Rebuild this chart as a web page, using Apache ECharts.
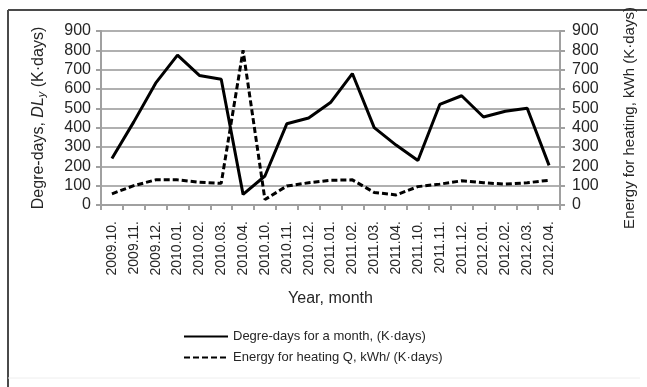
<!DOCTYPE html>
<html><head><meta charset="utf-8">
<script src="https://cdn.jsdelivr.net/npm/echarts@6/dist/echarts.min.js"></script>
<style>html,body{margin:0;padding:0;background:#fff}#c{width:647px;height:387px}</style>
</head><body><div id="c"></div>
<script>
const categories = ['2009.10.','2009.11.','2009.12.','2010.01.','2010.02.','2010.03.','2010.04.','2010.10.','2010.11.','2010.12.','2011.01.','2011.02.','2011.03.','2011.04.','2011.10.','2011.11.','2011.12.','2012.01.','2012.02.','2012.03.','2012.04.'];
const degreeDays = [240, 430, 630, 775, 670, 650, 55, 150, 420, 450, 530, 680, 400, 310, 230, 520, 565, 455, 485, 500, 205];
const energyHeating = [58, 100, 130, 130, 118, 112, 800, 28, 98, 115, 128, 130, 65, 52, 95, 108, 125, 115, 108, 115, 128];
const yTicks = {min: 0, max: 900, interval: 100};

const chart = echarts.init(document.getElementById('c'));
const font = 'Liberation Sans, Arial, sans-serif';
const txt = '#262626';
chart.setOption({
  animation: false,
  backgroundColor: '#fff',
  textStyle: {fontFamily: font},
  graphic: [
    {type: 'line', shape: {x1: 8, y1: 10, x2: 647, y2: 10}, style: {stroke: '#4a4a4a', lineWidth: 2}},
    {type: 'line', shape: {x1: 8, y1: 10, x2: 8, y2: 387}, style: {stroke: '#4a4a4a', lineWidth: 2}},
    {type: 'line', shape: {x1: 8, y1: 378, x2: 640, y2: 378}, style: {stroke: '#eeeeee', lineWidth: 1}}
  ],
  grid: {left: 101, right: 87, top: 31, bottom: 182, containLabel: false, outerBoundsMode: 'none'},
  legend: {
    orient: 'vertical', left: 178, top: 325, itemWidth: 44, itemHeight: 10, itemGap: 8,
    itemStyle: {opacity: 0},
    textStyle: {fontSize: 13, color: txt, fontFamily: font},
    data: ['Degre-days for a month, (K·days)', 'Energy for heating Q, kWh/ (K·days)']
  },
  xAxis: {
    type: 'category', data: categories, boundaryGap: true,
    axisLine: {lineStyle: {color: '#a0a0a0', width: 2}},
    axisTick: {show: true, interval: 0, length: 5, lineStyle: {color: '#a0a0a0', width: 2}},
    axisLabel: {rotate: 90, interval: 0, fontSize: 14, color: txt, margin: 16},
    name: 'Year, month', nameLocation: 'middle', nameGap: 86,
    nameTextStyle: {fontSize: 16, color: txt}
  },
  yAxis: [
    {
      type: 'value', min: yTicks.min, max: yTicks.max, interval: yTicks.interval,
      axisLine: {show: true, lineStyle: {color: '#a0a0a0', width: 2}},
      axisTick: {show: true, length: 5, lineStyle: {color: '#a0a0a0', width: 2}},
      splitLine: {show: true, lineStyle: {color: '#b0b0b0', width: 2}},
      axisLabel: {fontSize: 16, color: txt, margin: 10},
      name: '{n|Degre-days, }{i|DL}{s|y}{n| (K·days)}', nameLocation: 'middle', nameGap: 54, nameRotate: 90,
      nameTextStyle: {rich: {
        n: {fontSize: 16, color: txt, fontFamily: font},
        i: {fontSize: 16, color: txt, fontStyle: 'italic', fontFamily: font},
        s: {fontSize: 11, color: txt, fontStyle: 'italic', fontFamily: font, verticalAlign: 'bottom', padding: [6, 0, 0, 0]}
      }}
    },
    {
      type: 'value', min: yTicks.min, max: yTicks.max, interval: yTicks.interval, position: 'right',
      axisLine: {show: true, lineStyle: {color: '#a0a0a0', width: 2}},
      axisTick: {show: true, length: 5, lineStyle: {color: '#a0a0a0', width: 2}},
      splitLine: {show: false},
      axisLabel: {fontSize: 16, color: txt, margin: 12},
      name: 'Energy for heating, kWh (K·days)', nameLocation: 'middle', nameGap: 62, nameRotate: 90,
      nameTextStyle: {fontSize: 15, color: txt}
    }
  ],
  series: [
    {
      name: 'Degre-days for a month, (K·days)', type: 'line', yAxisIndex: 0,
      data: degreeDays, symbol: 'none', showSymbol: false,
      lineStyle: {color: '#000', width: 3}, itemStyle: {color: '#000'}
    },
    {
      name: 'Energy for heating Q, kWh/ (K·days)', type: 'line', yAxisIndex: 1,
      data: energyHeating, symbol: 'none', showSymbol: false,
      lineStyle: {color: '#000', width: 3, type: [6, 3]}, itemStyle: {color: '#000'}
    }
  ]
});
</script></body></html>
